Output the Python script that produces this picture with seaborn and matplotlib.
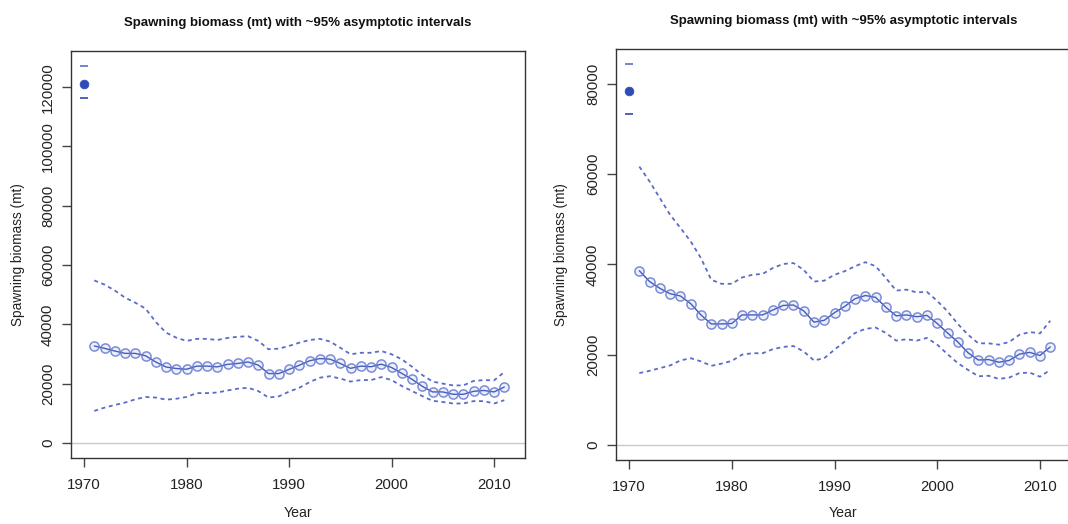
import numpy as np
import pandas as pd
import matplotlib
matplotlib.use("Agg")
import matplotlib.pyplot as plt
import seaborn as sns

# ---- data -------------------------------------------------------------
years = list(range(1971, 2012))
virgin_year = 1970

# Model run A
a_ssb = [32700, 31900, 31000, 30200, 30200, 29400, 27300, 25600, 25100, 24850,
         25900, 25900, 25650, 26500, 26800, 27300, 26250, 23400, 23400, 24800,
         26200, 27700, 28450, 28250, 26800, 25150, 25900, 25700, 26550, 25450,
         23450, 21450, 19100, 17200, 17200, 16400, 16400, 17400, 17700, 17200, 18850]
a_upper = [54800, 53400, 51400, 49000, 47300, 45300, 40800, 37200, 35500, 34400,
           35100, 35100, 34700, 35400, 35800, 36000, 34400, 31600, 31800, 32700,
           33800, 34700, 35100, 34200, 32100, 29900, 30400, 30400, 31000, 29900,
           28200, 25700, 22900, 20700, 20000, 19400, 19400, 20900, 21200, 21100, 23900]
a_lower = [10800, 11900, 12800, 13600, 14700, 15500, 15300, 14600, 14900, 15500,
           16800, 16800, 17000, 17700, 18300, 18600, 17500, 15300, 15700, 17300,
           18600, 20500, 22000, 22500, 21700, 20700, 21200, 21200, 22200, 21200,
           19200, 17500, 15800, 14200, 13800, 13300, 13300, 14100, 14100, 13300, 14400]
a_virgin = 121100
a_virgin_hi = 127100
a_virgin_lo = 116300

# Model run B
b_ssb = [38600, 36200, 34700, 33500, 33000, 31300, 28800, 26800, 26800, 26900,
         28800, 28800, 28800, 29900, 30900, 31000, 29700, 27200, 27600, 29300,
         30700, 32400, 33100, 32700, 30500, 28600, 28800, 28400, 28700, 26900,
         24800, 22800, 20400, 18800, 18900, 18300, 18700, 20100, 20500, 19800, 21700]
b_upper = [61700, 58400, 54700, 51000, 48100, 45100, 41400, 36600, 35700, 35700,
           37100, 37700, 37900, 39200, 40100, 40300, 38800, 36200, 36400, 37700,
           38500, 39600, 40500, 39600, 37000, 34200, 34400, 33800, 33900, 31900,
           29600, 26800, 24400, 22500, 22500, 22200, 22800, 24400, 25000, 24700, 27500]
b_lower = [15900, 16400, 17000, 17600, 18700, 19200, 18500, 17500, 18000, 18600,
           20000, 20300, 20300, 21200, 21700, 21900, 20700, 18700, 19200, 21100,
           22900, 24800, 25700, 26000, 24800, 23100, 23400, 23100, 23700, 22200,
           20100, 18100, 16600, 15200, 15300, 14600, 14900, 15900, 16000, 15100, 16600]
b_virgin = 78500
b_virgin_hi = 84400
b_virgin_lo = 73300

title_text = "Spawning biomass (mt) with ~95% asymptotic intervals"
x_label = "Year"
y_label = "Spawning biomass (mt)"
x_ticks = [1970, 1980, 1990, 2000, 2010]

# ---- style ------------------------------------------------------------
sns.set_theme(style="ticks")
plt.rcParams["font.family"] = ["Liberation Sans", "DejaVu Sans"]
plt.rcParams["axes.edgecolor"] = "#333333"
plt.rcParams["axes.linewidth"] = 1.0

line_col = "#3a52b2"
circle_col = (0.40, 0.48, 0.82, 0.85)
dash_col = "#5a6cc8"
point_col = "#2e4cb3"

fig = plt.figure(figsize=(10.68, 5.24), dpi=100)
ax_a = fig.add_axes([71 / 1068, 1 - 458 / 524, 454 / 1068, 407 / 524])
ax_b = fig.add_axes([616 / 1068, 1 - 460 / 524, 455 / 1068, 411 / 524])


def draw_panel(ax, ssb, upper, lower, v, v_hi, v_lo, y_ticks, label_dx, xlabel_dy):
    df = pd.DataFrame({"year": years, "ssb": ssb, "upper": upper, "lower": lower})
    ax.axhline(0, color="#c9c9c9", lw=1.0, zorder=1)
    for col in ("upper", "lower"):
        sns.lineplot(data=df, x="year", y=col, ax=ax, color=dash_col, lw=1.3,
                     linestyle=(0, (2.2, 2.0)), zorder=2)
    sns.lineplot(data=df, x="year", y="ssb", ax=ax, color=line_col, lw=1.0,
                 marker="o", markersize=6.6, markerfacecolor=(0.55, 0.62, 0.88, 0.15),
                 markeredgecolor=circle_col, markeredgewidth=1.1, zorder=3)
    vdf = pd.DataFrame({"year": [virgin_year], "v": [v], "hi": [v_hi], "lo": [v_lo]})
    sns.scatterplot(data=vdf, x="year", y="v", ax=ax, color=point_col, s=40,
                    edgecolor=point_col, linewidth=0.5, zorder=4)
    sns.scatterplot(data=vdf, x="year", y="hi", ax=ax, marker="_", s=40,
                    color="#6a7bd0", linewidth=1.3, zorder=4)
    sns.scatterplot(data=vdf, x="year", y="lo", ax=ax, marker="_", s=40,
                    color="#4058b8", linewidth=1.3, zorder=4)

    top = max(upper + [v_hi])
    ext = 0.04 * top
    ax.set_ylim(-ext, top + ext)
    ax.set_xlim(1968.73, 2013.02)
    ax.set_xticks(x_ticks)
    ax.set_yticks(y_ticks)
    ax.set_yticklabels([str(t) for t in y_ticks], rotation=90, va="center")
    ax.tick_params(axis="both", direction="out", length=6.5, width=1.0,
                   color="#444444", labelsize=10.8, labelcolor="#222222")
    ax.tick_params(axis="x", pad=8)
    ax.tick_params(axis="y", pad=5)
    for s in ax.spines.values():
        s.set_visible(True)
        s.set_color("#333333")

    ax.set_title(title_text, fontsize=9.5, fontweight="bold", pad=18, color="#111111")
    ax.set_xlabel(x_label, fontsize=10.2, color="#222222")
    ax.set_ylabel(y_label, fontsize=9.8, color="#222222")
    ax.yaxis.set_label_coords(label_dx, 0.5)
    ax.yaxis.label.set_va("center")
    ax.xaxis.set_label_coords(0.5, xlabel_dy)
    ax.xaxis.label.set_va("center")
    ax.set_facecolor("white")


draw_panel(ax_a, a_ssb, a_upper, a_lower, a_virgin, a_virgin_hi, a_virgin_lo,
           [0, 20000, 40000, 60000, 80000, 100000, 120000], -53 / 454, -55 / 407)
draw_panel(ax_b, b_ssb, b_upper, b_lower, b_virgin, b_virgin_hi, b_virgin_lo,
           [0, 20000, 40000, 60000, 80000], -55 / 455, -53 / 411)

fig.savefig("out.png", dpi=100, facecolor="white")
